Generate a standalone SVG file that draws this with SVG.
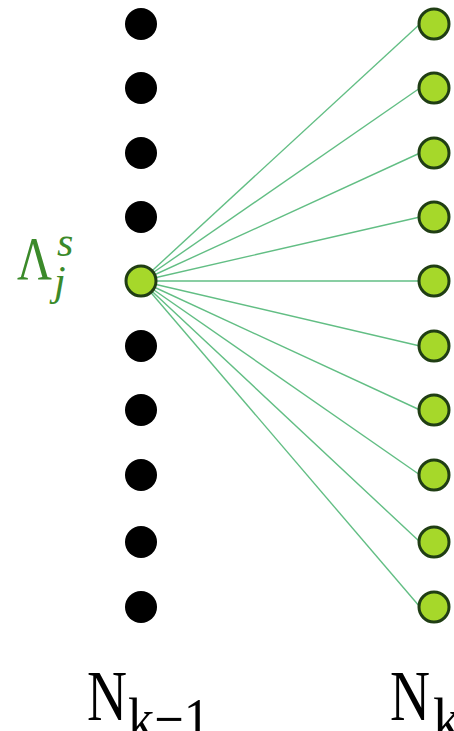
<svg xmlns="http://www.w3.org/2000/svg" width="454" height="731" viewBox="0 0 454 731">
<style>
.blk{fill:#000}
.grn{fill:#a6d82a;stroke:#203e14;stroke-width:3}
.ln{stroke:#62be84;stroke-width:1.4;fill:none}
.lbl{font-family:"Liberation Serif",serif;fill:#000;font-style:normal}
.lam{font-family:"Liberation Serif",serif;fill:#3b8a2a}
</style>
<rect width="454" height="731" fill="#fff"/>
<g id="connectors">
<line class="ln" x1="141" y1="281" x2="420" y2="24"/>
<line class="ln" x1="141" y1="281" x2="420" y2="88"/>
<line class="ln" x1="141" y1="281" x2="420" y2="153"/>
<line class="ln" x1="141" y1="281" x2="420" y2="217"/>
<line class="ln" x1="141" y1="281" x2="420" y2="281"/>
<line class="ln" x1="141" y1="281" x2="420" y2="346"/>
<line class="ln" x1="141" y1="281" x2="420" y2="410"/>
<line class="ln" x1="141" y1="281" x2="420" y2="475"/>
<line class="ln" x1="141" y1="281" x2="420" y2="542"/>
<line class="ln" x1="141" y1="281" x2="420" y2="607"/>
</g>
<g id="left-layer">
<circle id="l1" class="blk" cx="141" cy="24" r="16"/>
<circle id="l2" class="blk" cx="141" cy="88" r="16"/>
<circle id="l3" class="blk" cx="141" cy="153" r="16"/>
<circle id="l4" class="blk" cx="141" cy="217" r="16"/>
<circle id="l6" class="blk" cx="141" cy="346" r="16"/>
<circle id="l7" class="blk" cx="141" cy="410" r="16"/>
<circle id="l8" class="blk" cx="141" cy="475" r="16"/>
<circle id="l9" class="blk" cx="141" cy="542" r="16"/>
<circle id="l10" class="blk" cx="141" cy="607" r="16"/>
</g>
<g id="lambda-node">
<circle class="grn" cx="141" cy="281" r="15"/>
<text class="lam" x="17" y="279" font-size="62" textLength="35" lengthAdjust="spacingAndGlyphs">Λ</text>
<text class="lam" x="57" y="256" font-size="42" font-style="italic">s</text>
<text class="lam" x="54" y="295" font-size="42" font-style="italic">j</text>
</g>
<g id="right-layer">
<circle id="r1" class="grn" cx="434" cy="24" r="15"/>
<circle id="r2" class="grn" cx="434" cy="88" r="15"/>
<circle id="r3" class="grn" cx="434" cy="153" r="15"/>
<circle id="r4" class="grn" cx="434" cy="217" r="15"/>
<circle id="r5" class="grn" cx="434" cy="281" r="15"/>
<circle id="r6" class="grn" cx="434" cy="346" r="15"/>
<circle id="r7" class="grn" cx="434" cy="410" r="15"/>
<circle id="r8" class="grn" cx="434" cy="475" r="15"/>
<circle id="r9" class="grn" cx="434" cy="542" r="15"/>
<circle id="r10" class="grn" cx="434" cy="607" r="15"/>
</g>
<g id="labels">
<text class="lbl" x="87" y="720" font-size="71" textLength="40" lengthAdjust="spacingAndGlyphs">N</text>
<text class="lbl" x="128" y="740" font-size="62" textLength="82" lengthAdjust="spacingAndGlyphs">k−1</text>
<text class="lbl" x="390" y="720" font-size="71" textLength="40" lengthAdjust="spacingAndGlyphs">N</text>
<text class="lbl" x="433" y="740" font-size="62" textLength="28" lengthAdjust="spacingAndGlyphs">k</text>
</g>
</svg>
